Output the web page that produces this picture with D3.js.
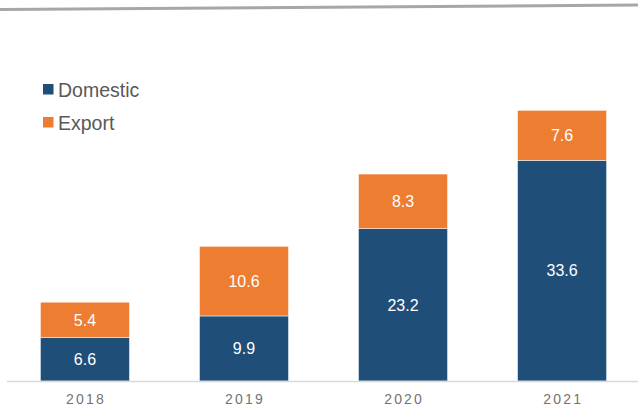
<!DOCTYPE html>
<html>
<head>
<meta charset="utf-8">
<script src="https://cdnjs.cloudflare.com/ajax/libs/d3/7.8.5/d3.min.js"></script>
<style>
  body { margin: 0; background: #fff; }
  svg { display: block; font-family: Arial, "Liberation Sans", sans-serif; }
</style>
</head>
<body>
<svg id="chart" width="638" height="406"></svg>
<script>
var years = ["2018", "2019", "2020", "2021"];
var domestic = [6.6, 9.9, 23.2, 33.6];
var exportVals = [5.4, 10.6, 8.3, 7.6];
var seriesNames = ["Domestic", "Export"];
var seriesColours = ["#1f4e79", "#ed7d31"];

var svg = d3.select("svg#chart");
var baseY = 381;

// top rule, slightly tilted like the original slide
svg.append("line")
    .attr("x1", 0).attr("y1", 9.5)
    .attr("x2", 638).attr("y2", 5)
    .attr("stroke", "#a9a6a4")
    .attr("stroke-width", 3);

var x = d3.scaleBand()
    .domain(years)
    .range([7, 640])
    .paddingInner(0.44)
    .paddingOuter(0.21);

var y = d3.scaleLinear()
    .domain([0, 45])
    .range([baseY, baseY - 45 * 6.57]);

var rows = years.map(function(yr, i) {
    return { year: yr, Domestic: domestic[i], Export: exportVals[i] };
});

var stack = d3.stack().keys(seriesNames)(rows);

var layers = svg.selectAll("g.layer")
    .data(stack)
    .enter()
    .append("g")
    .attr("class", "layer")
    .attr("fill", function(d, i) { return seriesColours[i]; });

layers.selectAll("rect")
    .data(function(d) { return d; })
    .enter()
    .append("rect")
    .attr("x", function(d) { return x(d.data.year); })
    .attr("y", function(d) { return y(d[1]); })
    .attr("width", x.bandwidth())
    .attr("height", function(d) { return y(d[0]) - y(d[1]); })
    .attr("stroke", "#ffffff")
    .attr("stroke-width", 0.5);

layers.selectAll("text")
    .data(function(d) { return d; })
    .enter()
    .append("text")
    .attr("x", function(d) { return x(d.data.year) + x.bandwidth() / 2; })
    .attr("y", function(d) { return (y(d[0]) + y(d[1])) / 2; })
    .attr("dy", "0.36em")
    .attr("text-anchor", "middle")
    .attr("fill", "#ffffff")
    .attr("font-size", "16px")
    .text(function(d) { return (d[1] - d[0]).toFixed(1); });

// baseline + year labels
var xAxis = svg.append("g")
    .attr("transform", "translate(0," + baseY + ")")
    .call(d3.axisBottom(x).tickSize(0).tickPadding(13));

xAxis.select(".domain")
    .attr("d", "M7,0.5H638")
    .attr("stroke", "#d9d9d9")
    .attr("stroke-width", 1.5);

xAxis.selectAll("text")
    .attr("font-family", "Arial, 'Liberation Sans', sans-serif")
    .attr("font-size", "14px")
    .attr("letter-spacing", "2.2px")
    .attr("fill", "#737373")
    .attr("dx", "1.1px");

// legend
var legend = svg.selectAll("g.legend")
    .data(seriesNames)
    .enter()
    .append("g")
    .attr("class", "legend")
    .attr("transform", function(d, i) { return "translate(43," + (84 + i * 33) + ")"; });

legend.append("rect")
    .attr("width", 10.5)
    .attr("height", 10.5)
    .attr("fill", function(d, i) { return seriesColours[i]; });

legend.append("text")
    .attr("x", 15)
    .attr("y", 12.6)
    .attr("font-size", "19.5px")
    .attr("fill", "#595959")
    .text(function(d) { return d; });
</script>
</body>
</html>
